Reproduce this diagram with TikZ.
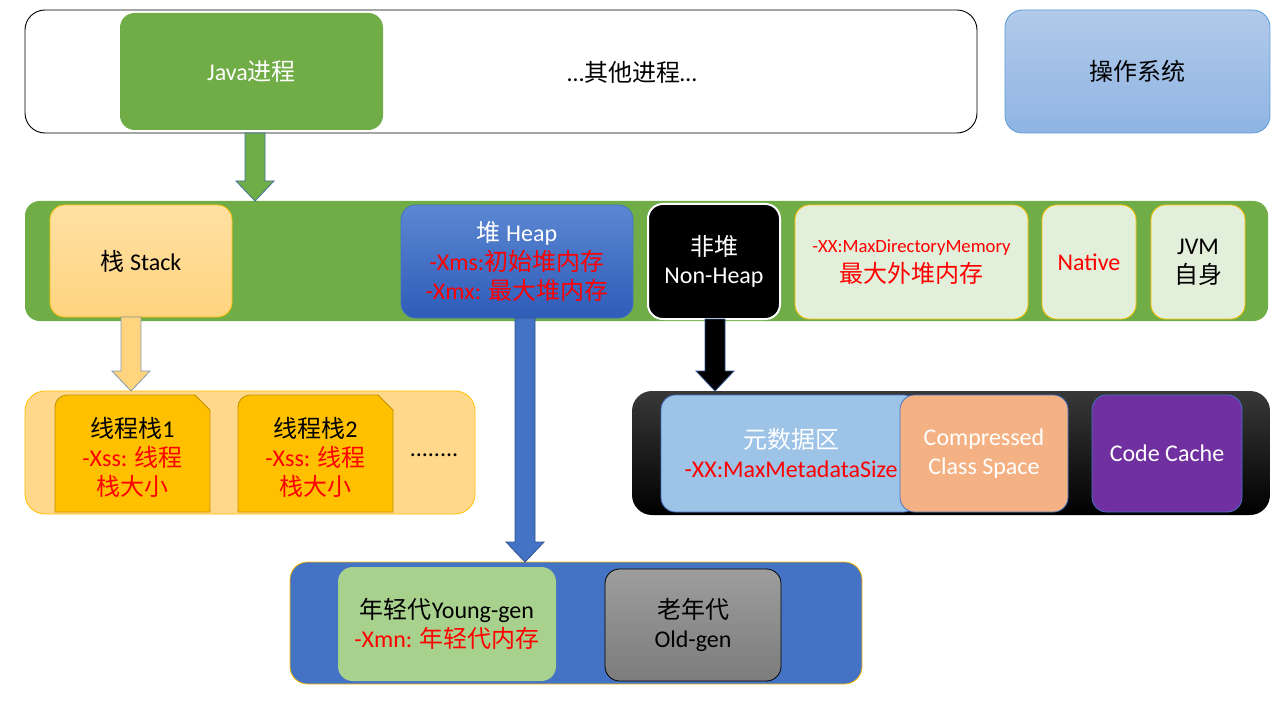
\documentclass[tikz,border=0pt]{standalone}
\usepackage{fontspec}
\setmainfont{Carlito}
\newfontfamily\cjk{Noto Sans CJK SC}
\newcommand\zh[1]{{\cjk #1}}
\usetikzlibrary{calc}
\definecolor{jgreen}{HTML}{70AD47}
\definecolor{jred}{HTML}{FF0000}
\definecolor{osTop}{HTML}{B2CAEA}
\definecolor{osBot}{HTML}{8FB4E3}
\definecolor{osLine}{HTML}{5B9BD5}
\definecolor{stTop}{HTML}{FFE0A3}
\definecolor{stBot}{HTML}{FFD47F}
\definecolor{gold}{HTML}{FFC000}
\definecolor{hpTop}{HTML}{5C87D2}
\definecolor{hpBot}{HTML}{2E5CB8}
\definecolor{paleGreen}{HTML}{E2EFDA}
\definecolor{tcont}{HTML}{FFD88C}
\definecolor{tstackLine}{HTML}{BF9000}
\definecolor{metaBlue}{HTML}{9DC3E6}
\definecolor{lineBlue}{HTML}{4472C4}
\definecolor{peach}{HTML}{F4B183}
\definecolor{purple}{HTML}{7030A0}
\definecolor{youngGreen}{HTML}{A9D18E}
\definecolor{oldTop}{HTML}{9D9D9D}
\definecolor{oldBot}{HTML}{7C7C7C}
\definecolor{arrLine}{HTML}{41719C}
\definecolor{arrLine2}{HTML}{2F528F}
\definecolor{stArrLine}{HTML}{8497B0}
\newcommand\rd[1]{\textcolor{jred}{#1}}
\tikzset{
  box/.style={rounded corners=11pt, inner sep=0pt, outer sep=0pt, align=center,
    font=\fontsize{18}{21.75}\selectfont},
  txt/.style={inner sep=0pt, outer sep=0pt, align=center, font=\fontsize{18}{21.75}\selectfont},
  tstack/.style={fill=gold, draw=tstackLine, line width=0.6pt},
}
\newcommand\bx[7][]{\node[box,#1,minimum width={(#5-#3)*0.75pt},minimum height={(#6-#4)*0.75pt}] (#2) at ({(#3+#5)/2},{(#4+#6)/2}) {#7};}
\newcommand\barrow[3]{\filldraw[#3] let \p1=(#1), \p2=(#2) in
  (\x1-7.5pt,\y1) -- (\x1-7.5pt,\y2+15pt) -- (\x1-14.25pt,\y2+15pt) -- (\x1,\y2)
  -- (\x1+14.25pt,\y2+15pt) -- (\x1+7.5pt,\y2+15pt) -- (\x1+7.5pt,\y1) -- cycle;}
\begin{document}
\begin{tikzpicture}[x=0.75pt,y=-0.75pt]
\useasboundingbox (0,0) rectangle (1280,720);
% top row
\bx[draw=black, line width=0.7pt, rounded corners=15pt]{procs}{25}{10}{977}{133}{}
\bx[fill=jgreen, text=white]{java}{120}{13}{383}{130}{Java\zh{进程}}
\node[txt] (other) at (632,72) {…\zh{其他进程}…};
\bx[top color=osTop, bottom color=osBot, draw=osLine, line width=0.6pt, rounded corners=13pt]{os}{1005}{10}{1270}{133}{\zh{操作系统}}
% JVM band
\bx[fill=jgreen]{band}{25}{201}{1268}{321}{}
\bx[top color=stTop, bottom color=stBot, draw=gold, line width=0.6pt]{stack}{50}{205}{232}{317}{\zh{栈} Stack}
\bx[top color=hpTop, bottom color=hpBot, draw=lineBlue, line width=0.6pt]{heap}{401}{205}{633}{318}{\textcolor{white}{\zh{堆} Heap}\\\rd{-Xms:\zh{初始堆内存}}\\\rd{-Xmx: \zh{最大堆内存}}}
\bx[fill=black, draw=white, line width=1.5pt, text=white]{nonheap}{648}{204}{780}{319}{\zh{非堆}\\[-0.5pt]Non-Heap}
\bx[fill=paleGreen, draw=gold, line width=0.6pt]{direct}{795}{205}{1028}{319}{\rd{\fontsize{14}{21}\selectfont -XX:MaxDirectoryMemory}\\[1pt]\rd{\zh{最大外堆内存}}}
\bx[fill=paleGreen, draw=gold, line width=0.6pt]{native}{1042}{205}{1136}{319}{\rd{Native}}
\bx[fill=paleGreen, draw=gold, line width=0.6pt]{jvmself}{1151}{205}{1245}{319}{JVM\\\zh{自身}}
% thread stacks
\bx[fill=tcont, draw=gold, line width=0.6pt, rounded corners=15pt]{tcont}{25}{391}{475}{514}{}
\draw[tstack] (55,512) -- (55,407) arc[start angle=180, end angle=90, radius=9pt] -- (195,395) -- (210,410) -- (210,512) -- cycle;
\node[txt] (t1) at (132.5,457) {\zh{线程栈}1\\\rd{-Xss: \zh{线程}}\\\rd{\zh{栈大小}}};
\draw[tstack] (238,512) -- (238,407) arc[start angle=180, end angle=90, radius=9pt] -- (378,395) -- (393,410) -- (393,512) -- cycle;
\node[txt] (t2) at (315.5,457) {\zh{线程栈}2\\\rd{-Xss: \zh{线程}}\\\rd{\zh{栈大小}}};
\node[txt] (dots) at (434,455) {........};
% non-heap contents
\bx[top color=black!78, middle color=black, bottom color=black, rounded corners=15pt]{ncont}{632}{391}{1270}{515}{}
\bx[fill=metaBlue, draw=lineBlue, line width=0.6pt]{meta}{661}{395}{918}{512}{}
\node[txt] (metatext) at (791,453) {\textcolor{white}{\zh{元数据区}}\\\rd{-XX:MaxMetadataSize}};
\bx[fill=peach, draw=lineBlue, line width=0.6pt, text=white]{ccs}{900}{395}{1068}{512}{Compressed\\Class Space}
\bx[fill=purple, draw=lineBlue, line width=0.6pt, text=white]{codecache}{1092}{395}{1242}{512}{Code Cache}
% young / old
\bx[fill=lineBlue, draw=gold, line width=0.6pt, rounded corners=13pt]{ycont}{290}{562}{862}{684}{}
\bx[fill=youngGreen]{young}{338}{567}{556}{681}{\zh{年轻代}Young-gen\\\rd{-Xmn: \zh{年轻代内存}}}
\bx[top color=oldTop, bottom color=oldBot, draw=black, line width=0.6pt]{old}{605}{569}{781}{681}{\zh{老年代}\\Old-gen}
% block arrows
\coordinate (ax1) at (255,0);
\coordinate (ax2) at (131,0);
\coordinate (ax3) at (525,0);
\coordinate (ax4) at (715,0);
\barrow{procs.south -| ax1}{band.north -| ax1}{fill=jgreen, draw=arrLine, line width=0.6pt}
\barrow{stack.south -| ax2}{tcont.north -| ax2}{fill=stBot, draw=stArrLine, line width=0.6pt}
\barrow{heap.south -| ax3}{ycont.north -| ax3}{fill=lineBlue, draw=arrLine2, line width=0.6pt}
\barrow{nonheap.south -| ax4}{ncont.north -| ax4}{fill=black, draw=arrLine2, line width=0.6pt}
\end{tikzpicture}
\end{document}
